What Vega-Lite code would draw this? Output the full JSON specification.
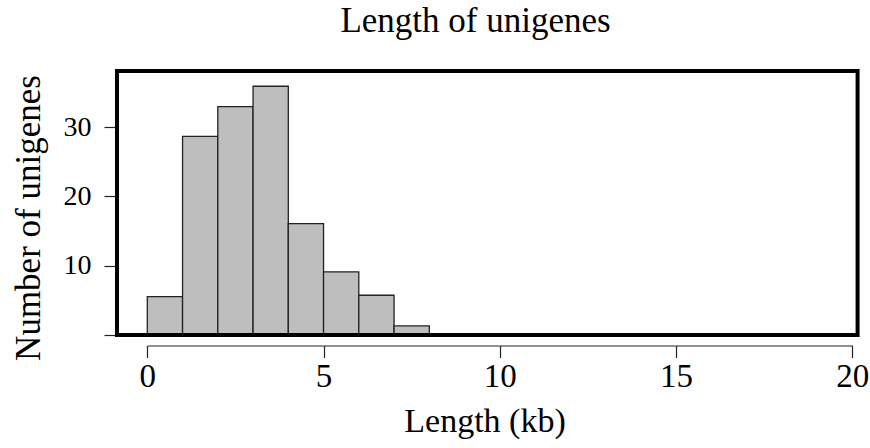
{
  "$schema": "https://vega.github.io/schema/vega-lite/v6.json",
  "autosize": "none",
  "width": 741,
  "height": 264,
  "padding": {"left": 117, "top": 71, "right": 12, "bottom": 113},
  "background": "white",
  "config": {"view": {"stroke": null}, "font": "Liberation Serif"},
  "title": {
    "text": "Length of unigenes",
    "font": "Liberation Serif",
    "fontSize": 35,
    "fontWeight": "normal",
    "color": "black",
    "anchor": "middle",
    "baseline": "alphabetic",
    "dx": -12,
    "offset": 2
  },
  "datasets": {
    "bins": [
      {"start": 0, "end": 1, "count": 5.55},
      {"start": 1, "end": 2, "count": 28.67},
      {"start": 2, "end": 3, "count": 32.95},
      {"start": 3, "end": 4, "count": 35.9},
      {"start": 4, "end": 5, "count": 16.08},
      {"start": 5, "end": 6, "count": 9.1},
      {"start": 6, "end": 7, "count": 5.74},
      {"start": 7, "end": 8, "count": 1.31}
    ],
    "frame": [{"x0": -0.86, "x1": 20.15, "y0": 0, "y1": 38.1}]
  },
  "layer": [
    {
      "data": {"name": "bins"},
      "mark": {"type": "rect", "fill": "#bebebe", "stroke": "#222222", "strokeWidth": 1.3},
      "encoding": {
        "x": {
          "field": "start", "type": "quantitative",
          "scale": {"domain": [0, 20], "range": [30.3, 735.3], "nice": false, "zero": false},
          "axis": {
            "values": [0, 5, 10, 15, 20],
            "format": "d",
            "offset": 10.5,
            "domain": true, "domainColor": "#222222", "domainWidth": 1.2,
            "ticks": true, "tickColor": "#222222", "tickWidth": 1.2, "tickSize": 12,
            "grid": false,
            "labelFont": "Liberation Serif", "labelFontSize": 33, "labelColor": "black",
            "labelPadding": 3, "labelFlush": false, "labelOverlap": false,
            "title": "Length (kb)",
            "titleFont": "Liberation Serif", "titleFontSize": 34, "titleFontWeight": "normal", "titleColor": "black",
            "titleBaseline": "alphabetic", "titleAlign": "center",
            "titleX": 367.5, "titleY": 86
          }
        },
        "x2": {"field": "end"},
        "y": {
          "field": "count", "type": "quantitative",
          "scale": {"domain": [0, 38.1], "nice": false, "zero": true},
          "axis": {
            "values": [0, 5, 10, 15, 20, 25, 30, 35],
            "labelExpr": "datum.value === 10 || datum.value === 20 || datum.value === 30 ? datum.label : ''",
            "domain": false,
            "ticks": true, "tickColor": "#222222", "tickWidth": 1.2, "tickSize": 13,
            "grid": false,
            "labelFont": "Liberation Serif", "labelFontSize": 28, "labelColor": "black",
            "labelPadding": 13, "labelOverlap": false, "labelBaseline": "middle", "labelFlush": false,
            "title": "Number of unigenes",
            "titleFont": "Liberation Serif", "titleFontSize": 35, "titleFontWeight": "normal", "titleColor": "black",
            "titleAngle": -90, "titleBaseline": "alphabetic", "titleAlign": "center",
            "titleX": -78, "titleY": 146.5
          }
        },
        "y2": {"datum": 0}
      }
    },
    {
      "data": {"name": "frame"},
      "mark": {"type": "rect", "fill": null, "fillOpacity": 0, "stroke": "black", "strokeWidth": 4},
      "encoding": {
        "x": {"field": "x0", "type": "quantitative"},
        "x2": {"field": "x1"},
        "y": {"field": "y0", "type": "quantitative"},
        "y2": {"field": "y1"}
      }
    }
  ]
}
